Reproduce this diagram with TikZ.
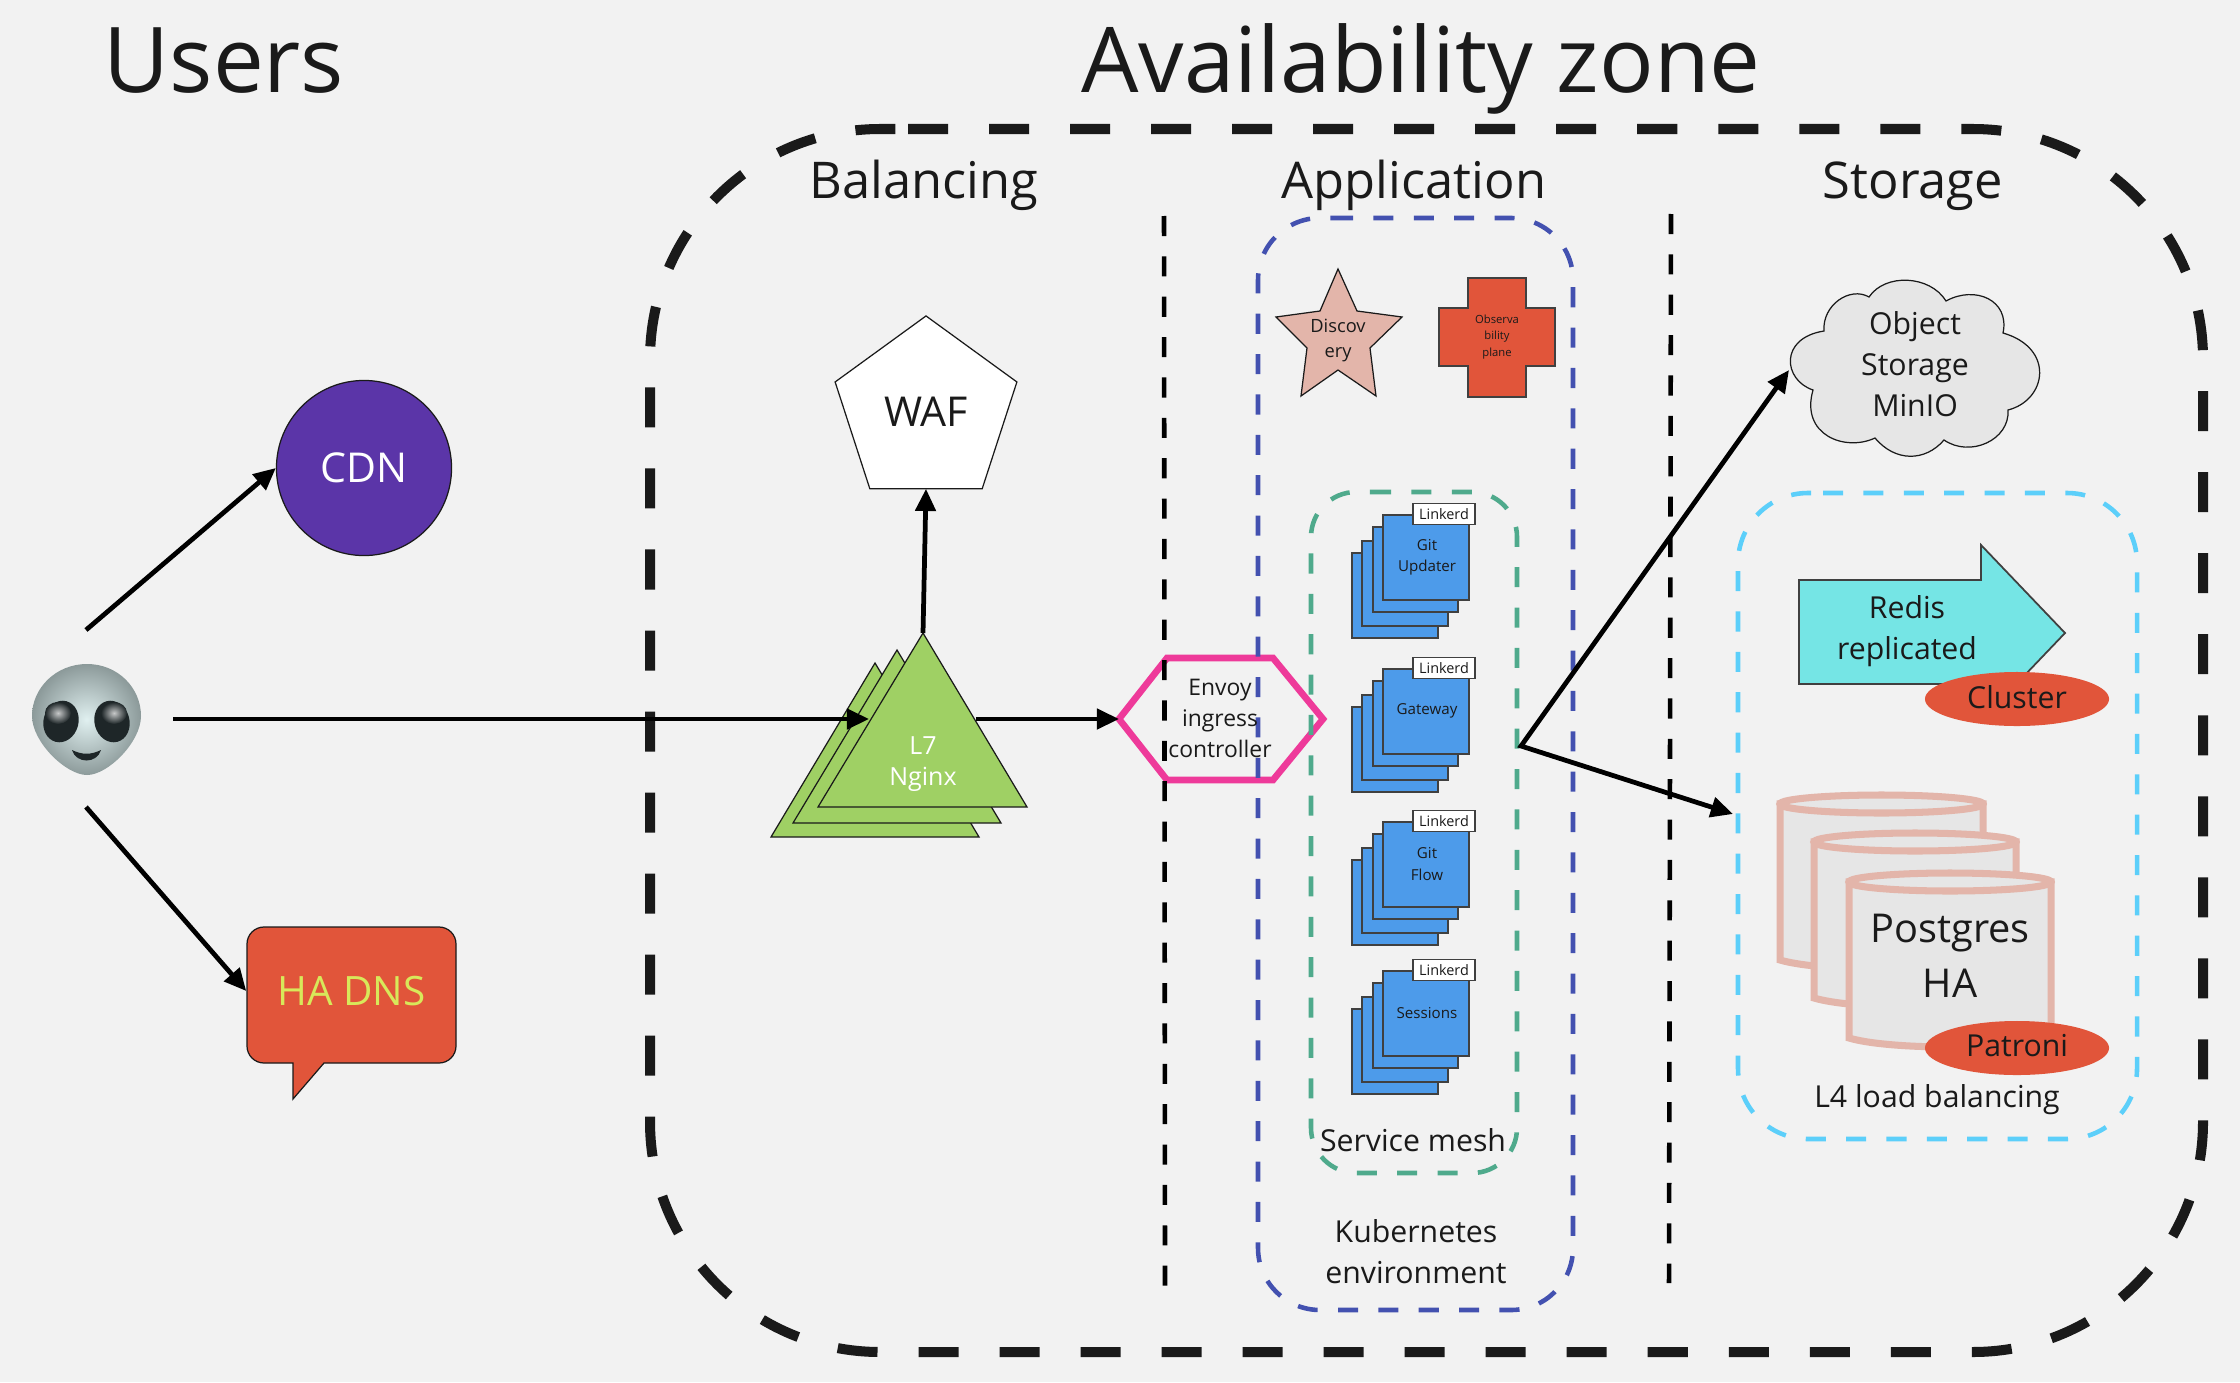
\documentclass[tikz,border=0pt]{standalone}
\usepackage{fontspec}
\setmainfont{Open Sans}
\usetikzlibrary{arrows.meta,shapes.geometric}
\definecolor{paper}{HTML}{F2F2F2}
\definecolor{ink}{HTML}{1A1A1A}
\definecolor{redfill}{HTML}{E1553A}
\definecolor{rosefill}{HTML}{E3B5AA}
\definecolor{greyfill}{HTML}{E6E6E6}
\definecolor{nginxfill}{HTML}{9FD064}
\definecolor{svcfill}{HTML}{4D9BEA}
\definecolor{kubeblue}{HTML}{4351B0}
\definecolor{meshgreen}{HTML}{4FAA8C}
\definecolor{lbcyan}{HTML}{5CCFFA}
\definecolor{envoypink}{HTML}{EE3A9A}
\definecolor{cdnviolet}{HTML}{5B35A8}
\definecolor{dnstext}{HTML}{D8E85A}
\definecolor{redisfill}{HTML}{75E5E5}
\definecolor{alienhi}{HTML}{E0F0F0}
\definecolor{alienlo}{HTML}{8C9A9A}
\definecolor{alieneye}{HTML}{1E2628}
\tikzset{
	flowtip/.tip={Triangle[length=6.3pt,width=5.7pt]},
	flow/.style={line width=1.35pt,-flowtip},
	zone/.style={line width=2.85pt,color=ink,dash pattern=on 11.38pt off 11.66pt,rounded corners=2.3cm},
	divider/.style={line width=1.3pt,color=black,dash pattern=on 5.7pt off 5.78pt},
	kube/.style={line width=1.3pt,dash pattern=on 5.7pt off 5.78pt,rounded corners=0.62cm},
	plain/.style={line width=0.35pt,draw=ink},
	svc/.style={line width=0.5pt,draw=black!75,fill=svcfill},
	cyl/.style={line width=2pt,draw=rosefill,fill=greyfill},
	title/.style={text=ink,inner sep=0pt,anchor=base,font=\fontsize{25.8}{30}\selectfont},
	head/.style={text=ink,inner sep=0pt,anchor=base,font=\fontsize{14.4}{17}\selectfont},
	txt/.style={text=ink,inner sep=0pt,align=center,font=\fontsize{8.6}{11.7}\selectfont},
	bigtxt/.style={text=ink,inner sep=0pt,align=center,font=\fontsize{11.3}{15.6}\selectfont},
	svctxt/.style={text=ink,inner sep=0pt,align=center,font=\fontsize{4.3}{6}\selectfont},
	linkerd/.style={draw=black!75,line width=0.5pt,fill=white,text=ink,inner sep=0pt,minimum width=0.62cm,minimum height=0.21cm,font=\fontsize{4.1}{5}\selectfont},
	badge/.style={ellipse,fill=redfill,text=ink,inner sep=0pt,minimum width=1.84cm,minimum height=0.54cm,font=\fontsize{8.6}{11}\selectfont},
}
\def\svcstack(#1)(#2)#3{
	\draw[svc] (1352, 553+#1) rectangle (1438, 638+#1);
	\draw[svc] (1362, 541+#1) rectangle (1448, 626+#1);
	\draw[svc] (1373, 527+#1) rectangle (1458, 612+#1);
	\draw[svc] (1383, 515+#1) rectangle (1469, 600+#1);
	\node[svctxt] (#2) at (1427, 557+#1) {#3};
	\node[linkerd] (#2mesh) at (1444, 514+#1) {Linkerd};
}
\def\pgcyl(#1,#2,#3,#4){
	\draw[cyl] (#1, #3) -- (#1, #4) .. controls (#1+40, #4+12) and (#2-40, #4+12) .. (#2, #4) -- (#2, #3) -- cycle;
	\draw[cyl] ({(#1+#2)/2}, #3) ellipse [x radius={(#2-#1)/2}, y radius=9];
}

\begin{document}
\begin{tikzpicture}[x=0.01cm,y=-0.01cm]
	%%%%% START %%%%%
	\useasboundingbox (0, 0) rectangle (2240, 1382);
	\fill[paper] (0, 0) rectangle (2240, 1382);

	\node[title] (users) at (224, 93) {Users};
	\node[title] (avail) at (1421, 93) {Availability zone};
	\node[head] (balancing) at (924, 199) {Balancing};
	\node[head] (application) at (1414, 199) {Application};
	\node[head] (storage) at (1913, 199) {Storage};

	% zone outline
	\draw[zone] (908, 129) -- (2203, 129) -- (2203, 1352) -- (650, 1352) -- (650, 129) -- (908, 129);

	% alien
	\shade[inner color=alienhi, outer color=alienlo] (87, 664) .. controls (118, 664) and (141, 688) .. (141, 716) .. controls (141, 742) and (108, 775) .. (87, 775) .. controls (66, 775) and (32, 742) .. (32, 716) .. controls (32, 688) and (56, 664) .. (87, 664) -- cycle;
	\fill[alieneye, rotate around={-15:(61, 721.5)}] (61, 721.5) ellipse [x radius=17.5, y radius=21];
	\fill[alieneye, rotate around={15:(112, 721.5)}] (112, 721.5) ellipse [x radius=17.5, y radius=21];
	\shade[inner color=white!75!alieneye, outer color=alieneye] (58, 713) ellipse [x radius=13, y radius=11];
	\shade[inner color=white!75!alieneye, outer color=alieneye] (114, 713) ellipse [x radius=13, y radius=11];
	\fill[alieneye] (72, 750) .. controls (82, 755) and (91, 755) .. (101, 750) .. controls (97, 764) and (76, 764) .. (72, 750) -- cycle;
	\coordinate (alienne) at (86, 630);
	\coordinate (aliene) at (173, 719);
	\coordinate (aliense) at (86, 807);

	% users side
	\node[circle, plain, fill=cdnviolet, inner sep=0pt, minimum size=1.75cm, text=white, font=\fontsize{11.7}{14}\selectfont] (cdn) at (364, 468) {CDN};
	\draw[plain, fill=redfill] (293, 1099) -- (293, 1063) [rounded corners=0.17cm] -- (247, 1063) -- (247, 927) -- (456, 927) -- (456, 1063) [sharp corners] -- (324, 1063) -- cycle;
	\node[inner sep=0pt, minimum width=2.09cm, minimum height=1.36cm, text=dnstext, font=\fontsize{11.5}{14}\selectfont] (dns) at (351.5, 991) {HA DNS};

	\draw[flow] (alienne) -- (cdn.west);
	\draw[flow] (aliense) -- (dns.west);

	% balancing
	\node[regular polygon, regular polygon sides=5, plain, fill=white, inner sep=0pt, outer sep=0pt, minimum size=1.91cm, text=ink, font=\fontsize{11.7}{14}\selectfont] (waf) at (926, 411.5) {WAF};

	\draw[plain, fill=nginxfill] (875, 663) -- (979, 837) -- (771, 837) -- cycle;
	\draw[plain, fill=nginxfill] (897, 650) -- (1001, 823) -- (793, 823) -- cycle;
	\coordinate (nginxback) at (869, 719);
	\draw[flow] (aliene) -- (nginxback);
	\draw[plain, fill=nginxfill] (923, 633) coordinate (nginxtop) -- (1027, 807) -- (818, 807) -- cycle;
	\node[inner sep=0pt, align=center, text=white, font=\fontsize{7.1}{8.6}\selectfont] (nginx) at (923, 764) {L7\\Nginx};
	\coordinate (nginxe) at (976, 719);

	\draw[line width=1.9pt, envoypink] (1119, 719) coordinate (envoyw) -- (1167, 658) -- (1273, 658) -- (1323, 719) -- (1273, 780) -- (1167, 780) -- cycle;

	\draw[flow] (nginxtop) -- (waf.south);
	\draw[flow] (nginxe) -- (envoyw);

	% dividers
	\draw[divider] (1164, 216) -- (1165, 1286);
	\draw[divider] (1671, 214) -- (1669, 1283);

	% application
	\draw[kube, kubeblue] (1333, 218) -- (1573, 218) -- (1573, 1310) -- (1258, 1310) -- (1258, 218) -- (1333, 218);
	\draw[kube, meshgreen, rounded corners=0.45cm] (1371, 492) -- (1517, 492) -- (1517, 1173) -- (1311, 1173) -- (1311, 492) -- (1371, 492);

	\node[text=ink, inner sep=0pt, align=center, font=\fontsize{6.5}{8.8}\selectfont] (envoy) at (1220, 718) {Envoy\\ingress\\controller};

	\draw[plain, fill=rosefill] (1338, 269) -- (1357, 311) -- (1402, 317) -- (1370, 348) -- (1376, 396) -- (1338, 370) -- (1301, 396) -- (1307, 348) -- (1276, 317) -- (1320, 311) -- cycle;
	\node[text=ink, inner sep=0pt, align=center, font=\fontsize{5.2}{7.1}\selectfont] (discovery) at (1338, 340) {Discov\\ery};

	\draw[line width=0.5pt, draw=black!75, fill=redfill] (1468, 278) -- (1526, 278) -- (1526, 308) -- (1555, 308) -- (1555, 366) -- (1526, 366) -- (1526, 397) -- (1468, 397) -- (1468, 366) -- (1439, 366) -- (1439, 308) -- (1468, 308) -- cycle;
	\node[text=ink, inner sep=0pt, align=center, font=\fontsize{3.2}{4.6}\selectfont] (observability) at (1497, 337) {Observa\\bility\\plane};

	\svcstack(0)(gitupdater){Git\\Updater}
	\svcstack(154)(gateway){Gateway}
	\svcstack(307)(gitflow){Git\\Flow}
	\svcstack(456)(sessions){Sessions}

	\node[txt] (meshlabel) at (1413, 1140) {Service mesh};
	\node[txt] (kubelabel) at (1416, 1252) {Kubernetes\\environment};

	% storage
	\draw[plain, fill=greyfill] (1824, 331) .. controls (1822, 305) and (1850, 286) .. (1869, 297) .. controls (1885, 273) and (1930, 275) .. (1946, 301) .. controls (1975, 285) and (2010, 300) .. (2003, 333) .. controls (2055, 348) and (2047, 400) .. (2008, 410) .. controls (2010, 440) and (1970, 458) .. (1944, 440) .. controls (1925, 462) and (1895, 462) .. (1875, 438) .. controls (1845, 452) and (1800, 435) .. (1813, 390) .. controls (1783, 380) and (1779, 338) .. (1824, 331) -- cycle;
	\node[txt] (minio) at (1915, 364) {Object\\Storage\\MinIO};
	\coordinate (miniow) at (1789, 370);

	\draw[kube, lbcyan, rounded corners=0.7cm] (1823, 493) -- (2137, 493) -- (2137, 1139) -- (1738, 1139) -- (1738, 493) -- (1823, 493);
	\coordinate (lbw) at (1733, 814);

	\draw[line width=0.5pt, draw=black!75, fill=redisfill] (1799, 580) -- (1981, 580) -- (1981, 545) -- (2065, 633) -- (1981, 721) -- (1981, 684) -- (1799, 684) -- cycle;
	\node[txt] (redis) at (1907, 631) {Redis\\replicated};
	\node[badge] (cluster) at (2017, 699) {};
	\node[txt] (clustertxt) at (2017, 697) {Cluster};

	\pgcyl(1780,1983,804,960)
	\pgcyl(1814,2016,842,998)
	\pgcyl(1849,2051,882,1038)
	\node[bigtxt] (postgres) at (1950, 956) {Postgres\\HA};
	\node[badge] (patroni) at (2017, 1048) {};
	\node[txt] (patronitxt) at (2017, 1046) {Patroni};
	\node[txt] (lblabel) at (1937, 1100) {L4 load balancing};

	\coordinate (fork) at (1521, 746);
	\draw[flow, flowtip-flowtip] (miniow) -- (fork) -- (lbw);
	%%%%% END %%%%%
\end{tikzpicture}
\end{document}
